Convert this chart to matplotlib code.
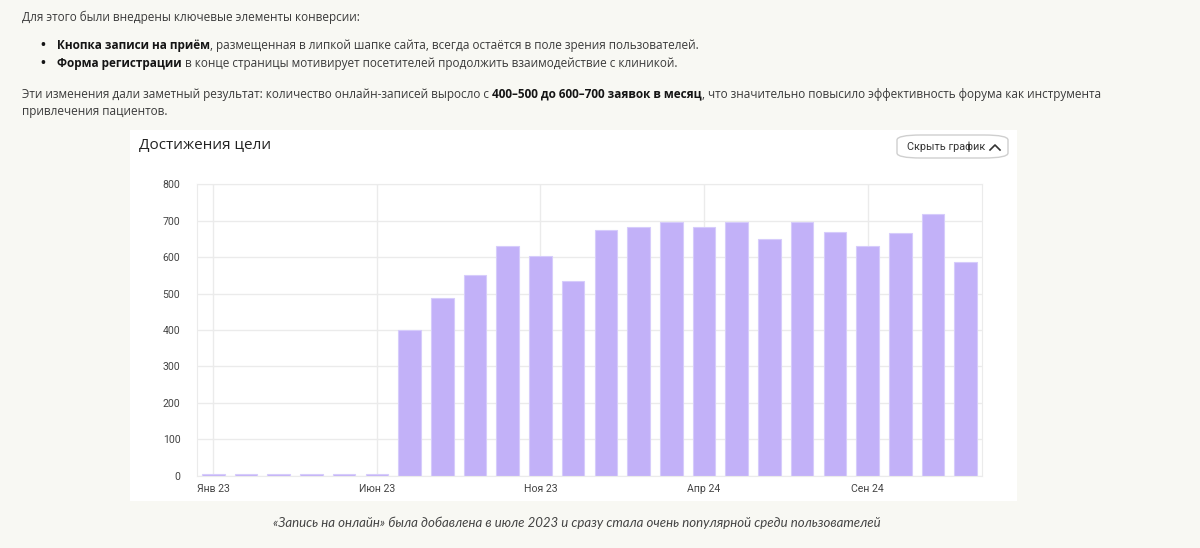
import matplotlib
matplotlib.use("Agg")
import matplotlib.pyplot as plt
from matplotlib.patches import FancyBboxPatch, Rectangle
from matplotlib.lines import Line2D

W, H = 1200, 548

months = ["Янв 23", "Фев 23", "Мар 23", "Апр 23", "Май 23", "Июн 23",
          "Июл 23", "Авг 23", "Сен 23", "Окт 23", "Ноя 23", "Дек 23",
          "Янв 24", "Фев 24", "Мар 24", "Апр 24", "Май 24", "Июн 24",
          "Июл 24", "Авг 24", "Сен 24", "Окт 24", "Ноя 24", "Дек 24"]
goals = [5, 5, 5, 5, 5, 5,
         401, 487, 551, 631, 603, 535,
         675, 684, 697, 684, 697, 649,
         697, 669, 630, 665, 719, 587]
tick_months = ["Янв 23", "Июн 23", "Ноя 23", "Апр 24", "Сен 24"]
y_ticks = [0, 100, 200, 300, 400, 500, 600, 700, 800]

intro = "Для этого были внедрены ключевые элементы конверсии:"
bullet1 = [("Кнопка записи на приём", True),
           (", размещенная в липкой шапке сайта, всегда остаётся в поле зрения пользователей.", False)]
bullet2 = [("Форма регистрации", True),
           (" в конце страницы мотивирует посетителей продолжить взаимодействие с клиникой.", False)]
result1 = [("Эти изменения дали заметный результат: количество онлайн-записей выросло с", False),
           (" 400–500 до 600–700 заявок в месяц", True),
           (", что значительно повысило эффективность форума как инструмента", False)]
result2 = "привлечения пациентов."
caption = "«Запись на онлайн» была добавлена в июле 2023 и сразу стала очень популярной среди пользователей"

BODY = "Open Sans"
BODY_SIZE = 8.45
TXT = "#3a3a3a"
BOLD = "#151515"


def fx(px):
    return px / W


def fy(py):
    return 1 - py / H


def text_width(fig, s, **kw):
    t = fig.text(0, 0, s, **kw)
    w = t.get_window_extent(fig.canvas.get_renderer()).width
    t.remove()
    return w


def draw_runs(fig, x, y, runs):
    space = (text_width(fig, "н н", family=BODY, fontsize=BODY_SIZE)
             - text_width(fig, "нн", family=BODY, fontsize=BODY_SIZE))
    r = fig.canvas.get_renderer()
    for s, bold in runs:
        if s.startswith(" "):
            x += space
            s = s.lstrip()
        t = fig.text(fx(x), fy(y), s, family=BODY, fontsize=BODY_SIZE,
                     weight="bold" if bold else "normal",
                     color=BOLD if bold else TXT, va="center", ha="left")
        x += t.get_window_extent(r).width


fig = plt.figure(figsize=(W / 100, H / 100), dpi=100)
fig.patch.set_facecolor("#f8f8f3")

# white chart panel
fig.patches.append(Rectangle((fx(130), fy(501)), fx(887), 371 / H,
                             transform=fig.transFigure, facecolor="white",
                             edgecolor="none", zorder=-5))

# page text
fig.text(fx(22), fy(17), intro, family=BODY, fontsize=BODY_SIZE, color=TXT, va="center")
for yy, runs in [(46, bullet1), (64, bullet2)]:
    fig.text(fx(40), fy(yy), "•", family=BODY, fontsize=BODY_SIZE + 1, color=BOLD,
             va="center", weight="bold")
    draw_runs(fig, 57, yy, runs)
draw_runs(fig, 22, 94, result1)
fig.text(fx(22), fy(112), result2, family=BODY, fontsize=BODY_SIZE, color=TXT, va="center")
fig.text(fx(577), fy(523), caption, family="Lato", style="italic", fontsize=9.5,
         color="#444444", va="center", ha="center")

# chart title and button
fig.text(fx(139), fy(145), "Достижения цели", family=BODY, fontsize=11.0,
         color="#222222", va="center")
fig.patches.append(FancyBboxPatch((fx(897), fy(158)), fx(111), 23 / H,
                                  boxstyle="round,pad=0,rounding_size=0.02",
                                  mutation_aspect=H / W,
                                  transform=fig.transFigure, facecolor="white",
                                  edgecolor="#cfcfcf", linewidth=1, zorder=1))
fig.text(fx(907), fy(147), "Скрыть график", family="Roboto", fontsize=7.8,
         color="#333333", va="center", zorder=2)
fig.lines.append(Line2D([fx(990), fx(995), fx(1000)], [fy(150), fy(145), fy(150)],
                        transform=fig.transFigure, color="#333333", linewidth=1.2))

# bar chart
ax = fig.add_axes([fx(197), fy(475.7), fx(785), (475.7 - 184.3) / H])
ax.set_zorder(2)
ax.set_facecolor("white")
x = list(range(len(months)))
ax.bar(x, goals, width=0.69, color="#c2b1f8", edgecolor="#d6ccfb", linewidth=0.8, zorder=2)
ax.set_xlim(-0.5, len(months) - 0.5)
ax.set_ylim(0, 800)
ax.set_yticks(y_ticks)
ax.set_xticks([months.index(m) for m in tick_months])
ax.set_xticklabels(tick_months)
ax.grid(True, color="#ebebeb", linewidth=1, zorder=0)
ax.set_axisbelow(True)
for sp in ax.spines.values():
    sp.set_color("#ebebeb")
ax.tick_params(length=0, labelsize=7.6, labelcolor="#444444")
ax.tick_params(axis="y", pad=12)
ax.tick_params(axis="x", pad=6)
for lab in ax.get_xticklabels() + ax.get_yticklabels():
    lab.set_family("Roboto")

fig.savefig("out.png", dpi=100, facecolor=fig.get_facecolor())
